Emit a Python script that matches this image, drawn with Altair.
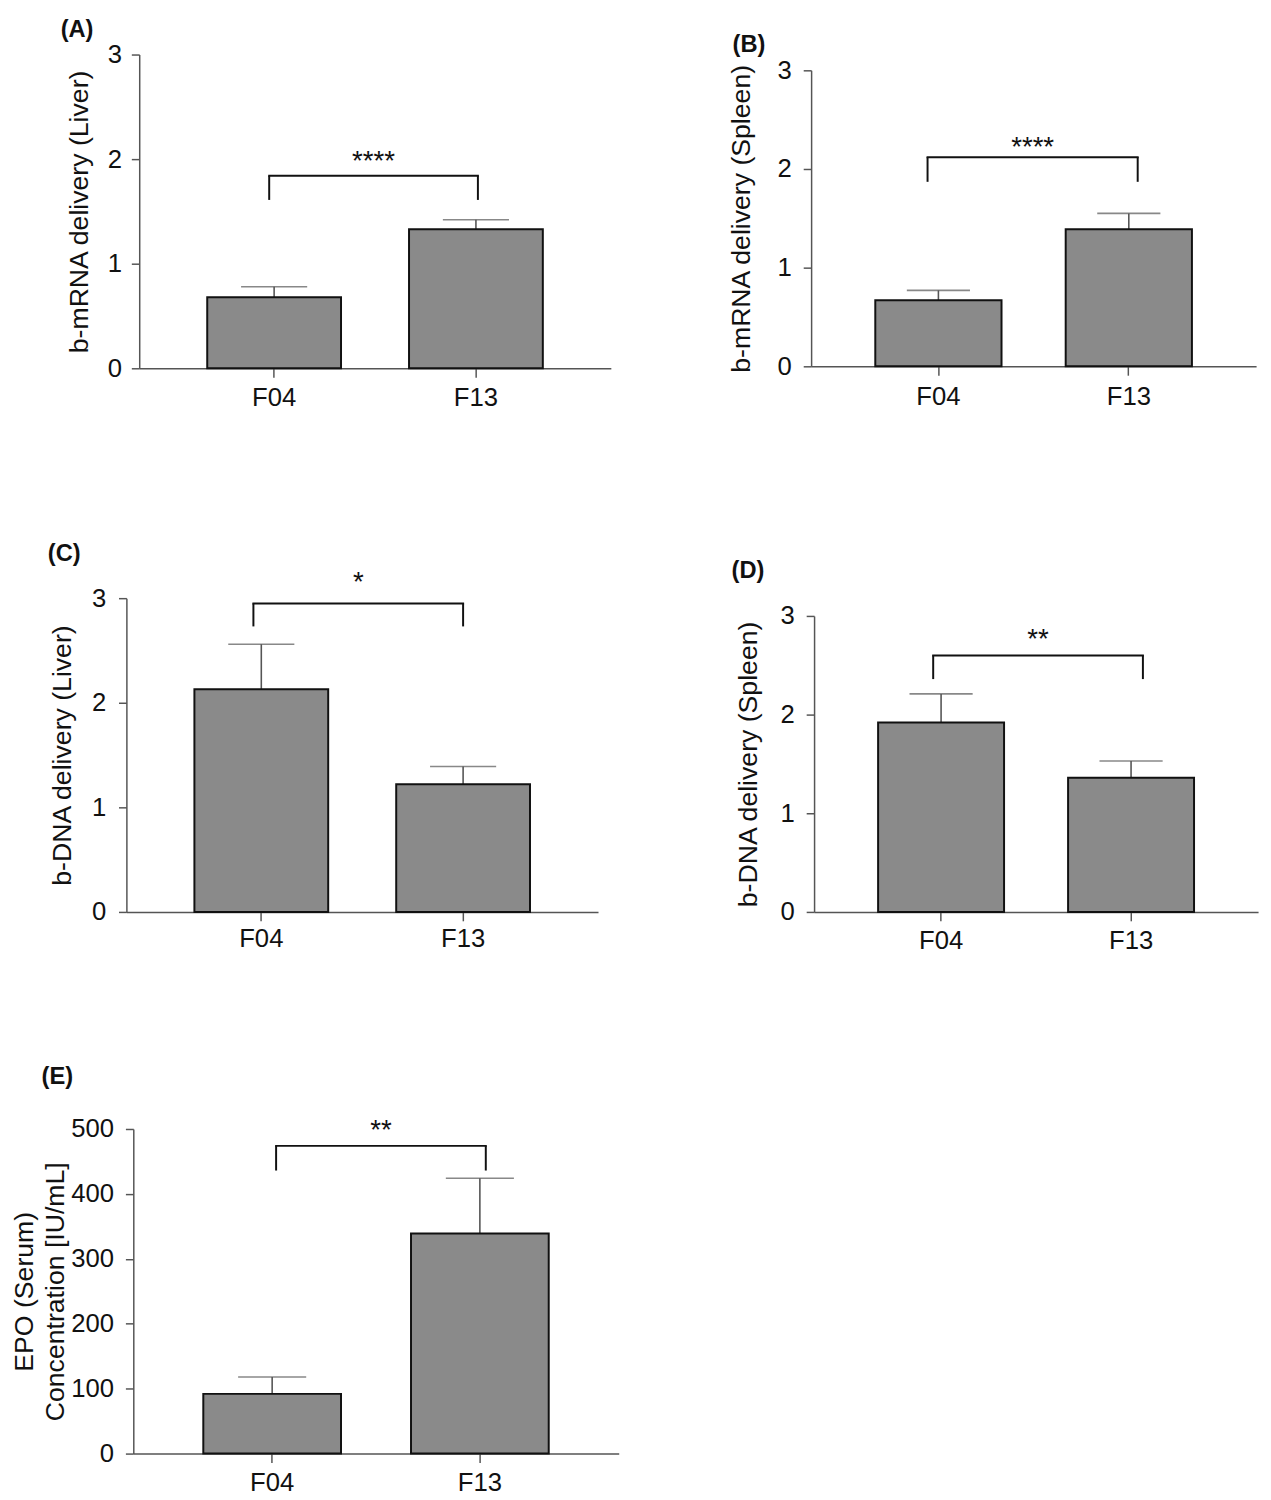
import altair as alt
import pandas as pd

# ---------------- data ----------------
groups = ["F04", "F13"]

a_mean = [0.68, 1.33]
a_upper = [0.78, 1.42]
b_mean = [0.67, 1.39]
b_upper = [0.77, 1.55]
c_mean = [2.13, 1.22]
c_upper = [2.56, 1.39]
d_mean = [1.92, 1.36]
d_upper = [2.21, 1.53]
e_mean = [92, 339]
e_upper = [118, 424]

ticks_delivery = [0, 1, 2, 3]
ticks_epo = [0, 100, 200, 300, 400, 500]

significance = ["****", "****", "*", "**", "**"]
bracket_top = [1.84, 2.12, 2.95, 2.60, 474]
bracket_end = [1.61, 1.87, 2.73, 2.36, 436]
star_level = [2.05, 2.29, 3.22, 2.84, 509]

panel_letters = ["(A)", "(B)", "(C)", "(D)", "(E)"]
y_titles = [
    "b-mRNA delivery (Liver)",
    "b-mRNA delivery (Spleen)",
    "b-DNA delivery (Liver)",
    "b-DNA delivery (Spleen)",
    ["EPO (Serum)", "Concentration [IU/mL]"],
]

# ---------------- style ----------------
FONT = "Liberation Sans"
BAR_FILL = "#8a8a8a"
BAR_STROKE = "#111111"
ERR_COLOR = "#555555"
AXIS_COLOR = "#555555"
PAD = 0.337


def panel(i, mean, upper, ymax, ticks, L):
    W, H, inset = L["w"], L["h"], L["inset"]
    step = W / (2 + PAD)
    df = pd.DataFrame({"group": groups, "mean": mean, "upper": upper})
    br = pd.DataFrame({"g1": [groups[0]], "g2": [groups[1]],
                       "top": [bracket_top[i]], "end": [bracket_end[i]],
                       "star": [star_level[i]], "sig": [significance[i]]})
    lab = pd.DataFrame({"letter": [panel_letters[i]]})

    xs = alt.Scale(domain=groups, paddingInner=PAD, paddingOuter=PAD)
    ys = alt.Scale(domain=[0, ymax], range=[H, inset], nice=False, zero=True)
    x_axis = alt.Axis(title=None, labelAngle=0, tickSize=9, labelPadding=L["xpad"],
                      domainColor=AXIS_COLOR, tickColor=AXIS_COLOR)
    y_axis = alt.Axis(title=y_titles[i], values=ticks, tickSize=8,
                      labelPadding=L["ypad"], titleX=L["tx"], titleBaseline="middle",
                      titleAngle=270, titleLineHeight=31.5, grid=False,
                      domainColor=AXIS_COLOR, tickColor=AXIS_COLOR)

    def X(f):
        return alt.X(f + ":N", scale=xs, axis=x_axis, sort=groups)

    def Y(f):
        return alt.Y(f + ":Q", scale=ys, axis=y_axis)

    base = alt.Chart(df)
    whisker = base.mark_rule(color=ERR_COLOR, strokeWidth=1.6).encode(
        x=X("group"), y=Y("mean"), y2="upper")
    cap = base.mark_tick(color=ERR_COLOR, orient="horizontal", size=L["cap"],
                         thickness=1.6).encode(x=X("group"), y=Y("upper"))
    bars = base.mark_bar(fill=BAR_FILL, stroke=BAR_STROKE, strokeWidth=2).encode(
        x=X("group"), y=Y("mean"))

    oL, oR = L["off"]
    bb = alt.Chart(br)
    b_h = bb.mark_rule(color="#111", strokeWidth=2, strokeCap="square",
                       xOffset=oL, x2Offset=oR).encode(x=X("g1"), x2="g2", y=Y("top"))
    b_l = bb.mark_rule(color="#111", strokeWidth=2, xOffset=oL).encode(
        x=X("g1"), y=Y("end"), y2="top")
    b_r = bb.mark_rule(color="#111", strokeWidth=2, xOffset=oR).encode(
        x=X("g2"), y=Y("end"), y2="top")
    stars = bb.mark_text(font=FONT, fontSize=28, color="#111", align="center",
                         baseline="alphabetic", dx=step / 2 + (oL + oR) / 2,
                         dy=16).encode(x=X("g1"), y=Y("star"), text="sig:N")

    letter = alt.Chart(lab).mark_text(font=FONT, fontSize=24, fontWeight="bold",
                                      color="#111", align="center",
                                      baseline="middle").encode(
        x=alt.value(L["lx"]), y=alt.value(L["ly"]), text="letter:N")

    return alt.layer(whisker, cap, bars, b_h, b_l, b_r, stars, letter).properties(
        width=W, height=H)


def spacer(w, h):
    return alt.Chart(pd.DataFrame({"s": [0]})).mark_point(opacity=0).properties(
        width=w, height=h)


LA = dict(w=478, h=318, inset=0, tx=-60, ypad=10, xpad=8, lx=-63, ly=-25, off=(-5, 2), cap=67)
LB = dict(w=451, h=316, inset=16, tx=-70, ypad=12, xpad=9, lx=-63, ly=-10, off=(-11, 9), cap=64)
LC = dict(w=478, h=318, inset=0, tx=-65, ypad=13, xpad=5, lx=-63, ly=-45, off=(-8, 0), cap=67)
LD = dict(w=450, h=318, inset=18, tx=-66, ypad=12, xpad=7, lx=-67, ly=-27, off=(-8, 12), cap=64)
LE = dict(w=492, h=329, inset=0, tx=-110, ypad=12, xpad=7, lx=-77, ly=-53, off=(4, 6), cap=69)

pA = panel(0, a_mean, a_upper, 3, ticks_delivery, LA)
pB = panel(1, b_mean, b_upper, 3, ticks_delivery, LB)
pC = panel(2, c_mean, c_upper, 3, ticks_delivery, LC)
pD = panel(3, d_mean, d_upper, 3, ticks_delivery, LD)
pE = panel(4, e_mean, e_upper, 500, ticks_epo, LE)

row1 = alt.hconcat(spacer(13, 1), pA, spacer(203, 1), pB, spacing=0, bounds="flush")
row2 = alt.hconcat(pC, spacer(219, 1), pD, spacing=0, bounds="flush")
row3 = alt.hconcat(spacer(7, 1), pE, spacing=0, bounds="flush")

chart = alt.vconcat(row1, spacer(1, 551), row2, spacer(1, 538), row3,
                    spacing=0, bounds="flush").properties(
    padding={"left": 3, "top": 0, "right": 5, "bottom": 5}
).configure_view(stroke=None).configure_axis(
    labelFont=FONT, labelFontSize=26, labelColor="#111",
    titleFont=FONT, titleFontSize=27, titleFontWeight="normal", titleColor="#111",
    domainWidth=1.5, tickWidth=1.5, grid=False,
).configure_concat(spacing=0)

chart.save("out.html", embed_options={"renderer": "svg", "actions": False})
